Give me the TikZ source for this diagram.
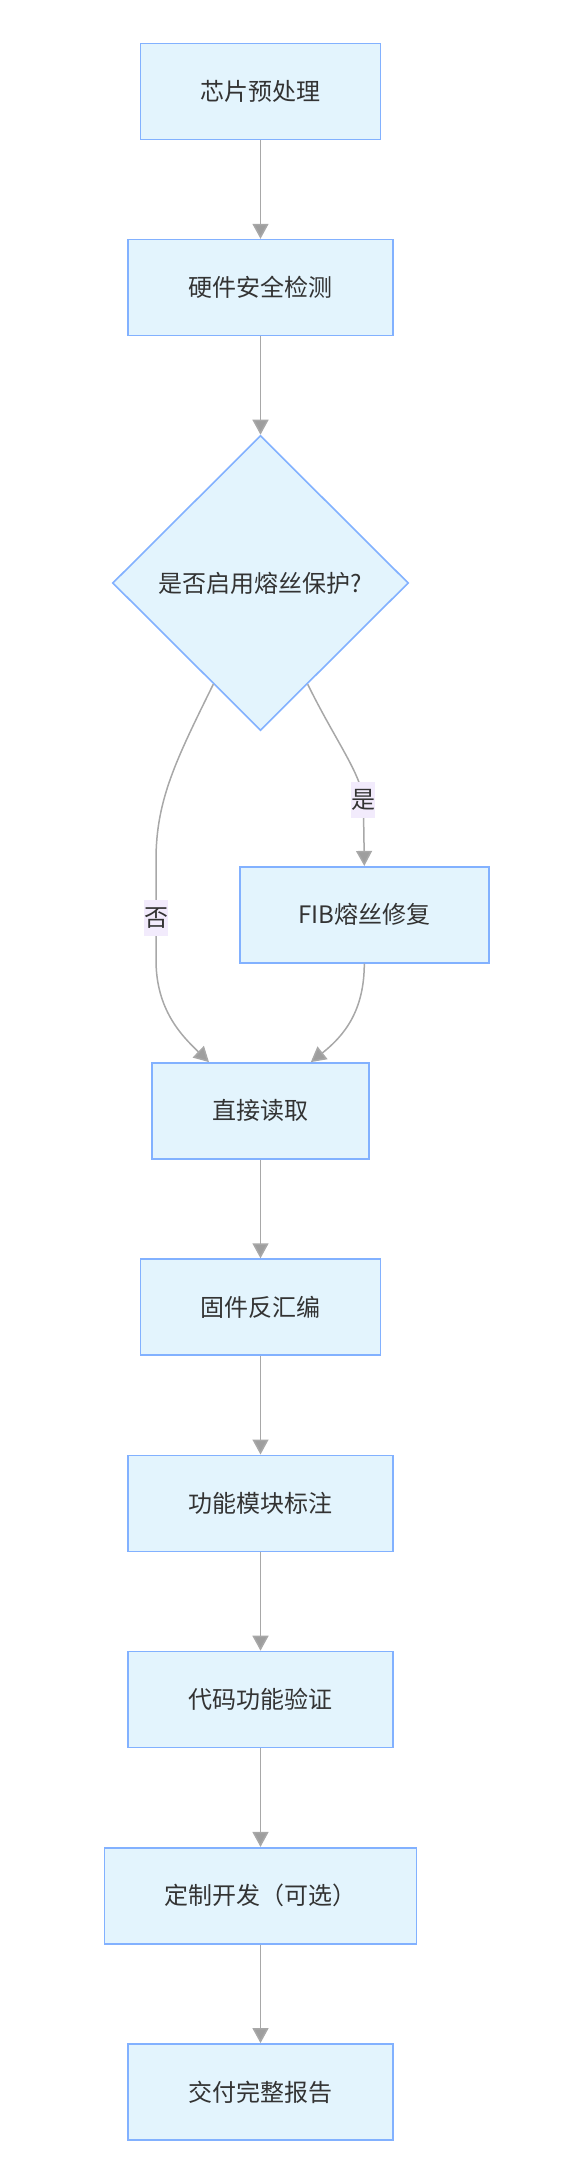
\documentclass[tikz,border=0pt]{standalone}
\usepackage{fontspec}
\newfontfamily\cjk{Noto Sans CJK SC}
\usetikzlibrary{arrows.meta,shapes.geometric}
\definecolor{nodefill}{HTML}{E3F4FD}
\definecolor{nodeline}{HTML}{82B1FF}
\definecolor{edgeline}{HTML}{A8A8A8}
\definecolor{arrowfill}{HTML}{9E9E9E}
\definecolor{txt}{HTML}{333333}
\definecolor{lblfill}{HTML}{F2EBFC}
\begin{document}
\begin{tikzpicture}[x=1pt,y=-1pt,
  lbfont/.style={font=\cjk\fontsize{24}{29}\selectfont, text=txt},
  stepbox/.style={rectangle, draw=nodeline, fill=nodefill, line width=1.6pt, minimum height=96pt, inner sep=0pt, lbfont},
  decide/.style={diamond, aspect=1, draw=nodeline, fill=nodefill, line width=1.6pt, minimum width=296pt, minimum height=295pt, inner sep=0pt, lbfont},
  edgelbl/.style={rectangle, fill=lblfill, inner sep=0pt, minimum width=24pt, minimum height=36pt, lbfont},
  conn/.style={draw=edgeline, line width=1.5pt, -{Triangle[length=15pt,width=16pt,fill=arrowfill]}},
]
\useasboundingbox (0,0) rectangle (567,2180);

\node[stepbox, minimum width=240pt] (n1) at (260.5,91.3) {芯片预处理};
\node[stepbox, minimum width=265pt] (n2) at (260.5,287.6) {硬件安全检测};
\node[decide] (d) at (260.5,583) {是否启用熔丝保护?};
\node[stepbox, minimum width=249pt] (fib) at (364.3,914.7) {FIB熔丝修复};
\node[stepbox, minimum width=217pt] (zd) at (260.5,1110.9) {直接读取};
\node[stepbox, minimum width=240pt] (n5) at (260.5,1307.1) {固件反汇编};
\node[stepbox, minimum width=265pt] (n6) at (260.5,1503.3) {功能模块标注};
\node[stepbox, minimum width=265pt] (n7) at (260.5,1699.5) {代码功能验证};
\node[stepbox, minimum width=312pt] (n8) at (260.5,1895.7) {定制开发（可选）};
\node[stepbox, minimum width=265pt] (n9) at (260.5,2091.9) {交付完整报告};

\coordinate (yes) at (363,800);
\coordinate (no) at (156,918);

\draw[conn] (n1) -- (n2);
\draw[conn] (n2) -- (d.north);
\draw[conn] (d.-65) .. controls (335,740) and (362,775) .. (yes) .. controls (364,830) and (364,845) .. (fib.north);
\draw[conn] (d.-115) .. controls (176,760) and (156,800) .. (156,860) -- (no) -- (156,960) .. controls (156,1010) and (182,1036) .. ([xshift=-51.5pt]zd.north);
\draw[conn] (fib.south) .. controls (364.3,1010) and (345,1035) .. ([xshift=50.3pt]zd.north);
\draw[conn] (zd) -- (n5);
\draw[conn] (n5) -- (n6);
\draw[conn] (n6) -- (n7);
\draw[conn] (n7) -- (n8);
\draw[conn] (n8) -- (n9);

\node[edgelbl] (lyes) at (yes) {是};
\node[edgelbl] (lno) at (no) {否};
\end{tikzpicture}
\end{document}
